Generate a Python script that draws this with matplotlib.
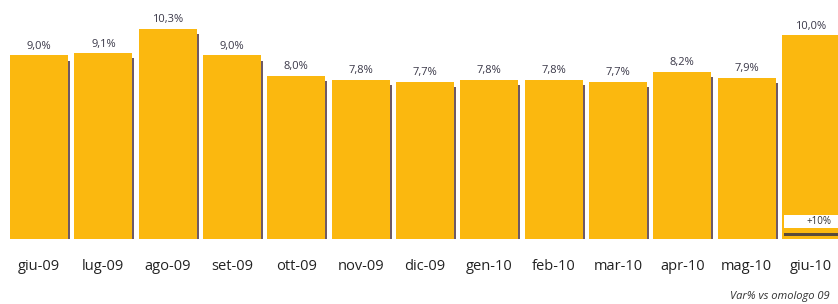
import matplotlib.pyplot as plt
from matplotlib.patches import Rectangle

months = ["giu-09", "lug-09", "ago-09", "set-09", "ott-09", "nov-09", "dic-09",
          "gen-10", "feb-10", "mar-10", "apr-10", "mag-10", "giu-10"]
values = [9.0, 9.1, 10.3, 9.0, 8.0, 7.8, 7.7, 7.8, 7.8, 7.7, 8.2, 7.9, 10.0]
labels = ["9,0%", "9,1%", "10,3%", "9,0%", "8,0%", "7,8%", "7,7%",
          "7,8%", "7,8%", "7,7%", "8,2%", "7,9%", "10,0%"]
last_note = "+10%"
footnote = "Var% vs omologo 09"

W, H = 838, 304
px_per_unit = 64.33
px_per_pct = 20.4
bottom_px = 239

fig = plt.figure(figsize=(W / 100, H / 100), dpi=100)
ax = fig.add_axes([0, (H - bottom_px) / H, 1, bottom_px / H])
left0 = -39 / px_per_unit
ax.set_xlim(left0, left0 + W / px_per_unit)
ax.set_ylim(0, bottom_px / px_per_pct)
ax.axis("off")

yellow = "#FBB80F"
shadow = "#6e5a66"
x = list(range(len(values)))

# thin shadow on the right edge of each bar
ax.bar([i + 0.03 for i in x], [v - 0.25 for v in values], width=0.9,
       color=shadow, zorder=1)
ax.bar(x, values, width=0.9, color=yellow, zorder=2)

for i, v in enumerate(values):
    ax.annotate(labels[i], (i, v), xytext=(0, 9), textcoords="offset pixels",
                ha="center", va="center", fontsize=8, color="#3a3848",
                family="Open Sans")

# white note box on the last bar
last = len(values) - 1
ax.add_patch(Rectangle((last - 0.42, 0.54), 0.87, 0.64, facecolor="white",
                       edgecolor="none", zorder=3))
ax.add_patch(Rectangle((last - 0.42, 0.15), 0.87, 0.15, facecolor="#5a4a3a",
                       edgecolor="none", zorder=3))
ax.text(last + 0.32, 0.86, last_note, ha="right", va="center", fontsize=7,
        color="#333333", family="Open Sans", zorder=4)

for i, m in enumerate(months):
    fig.text((39 + px_per_unit * i) / W, 1 - 266 / H, m, ha="center",
             va="center", fontsize=10.5, color="#222222", family="Open Sans")

fig.text(830 / W, 1 - 296 / H, footnote, ha="right", va="center",
         fontsize=8, style="italic", color="#333333", family="Open Sans")

fig.savefig("out.png", dpi=100)
